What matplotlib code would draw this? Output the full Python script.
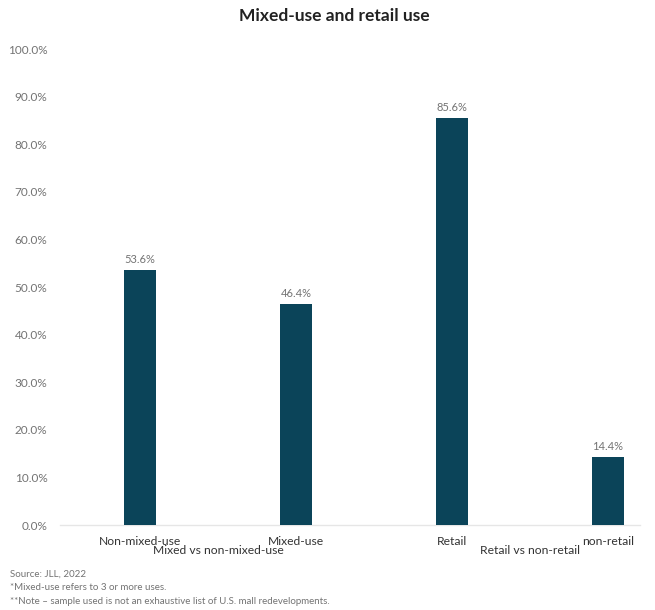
import matplotlib
matplotlib.use("Agg")
import matplotlib.pyplot as plt

plt.rcParams['font.family'] = ['Lato', 'DejaVu Sans']

categories = ['Non-mixed-use', 'Mixed-use', 'Retail', 'non-retail']
values = [53.6, 46.4, 85.6, 14.4]
groups = ['Mixed vs non-mixed-use', 'Retail vs non-retail']
yticks = [0, 10, 20, 30, 40, 50, 60, 70, 80, 90, 100]
notes = ['Source: JLL, 2022',
         '*Mixed-use refers to 3 or more uses.',
         '**Note \u2013 sample used is not an exhaustive list of U.S. mall redevelopments.']

bar_color = '#0b4459'
grey = '#737373'

fig = plt.figure(figsize=(6.55, 6.1), dpi=100)
ax = fig.add_axes([0.0916, 0.1393, 0.8855, 0.780])

x = list(range(len(categories)))
bars = ax.bar(x, values, width=0.2, color=bar_color, zorder=3)
for b, v in zip(bars, values):
    ax.text(b.get_x() + b.get_width() / 2, v + 1.0, f'{v:.1f}%',
            ha='center', va='bottom', fontsize=8, color=grey)

ax.set_xlim(-0.513, 3.205)
ax.set_ylim(0, 100)
ax.set_yticks(yticks)
ax.set_yticklabels([f'{t:.1f}%' for t in yticks], fontsize=8.5, color=grey)
ax.set_xticks(x)
ax.set_xticklabels(categories, fontsize=8.7, color='#333333')
ax.tick_params(axis='y', length=0, pad=9)
ax.tick_params(axis='x', length=0, pad=8)

for s in ['top', 'right', 'left']:
    ax.spines[s].set_visible(False)
ax.spines['bottom'].set_color('#e6e6e6')
ax.spines['bottom'].set_linewidth(1.0)

# group captions under each pair of bars
for i, g in enumerate(groups):
    ax.text(2 * i + 0.5, -5.4, g, transform=ax.transData, ha='center',
            va='center', fontsize=8.7, color='#333333')

fig.text(0.511, 0.974, 'Mixed-use and retail use', ha='center', va='center',
         fontsize=12.5, fontweight='bold', color='#222222')

for i, n in enumerate(notes):
    fig.text(0.015, 1 - (574 + 13.5 * i) / 610, n, ha='left', va='center',
             fontsize=7, color=grey)

fig.savefig('out.png', dpi=100)
